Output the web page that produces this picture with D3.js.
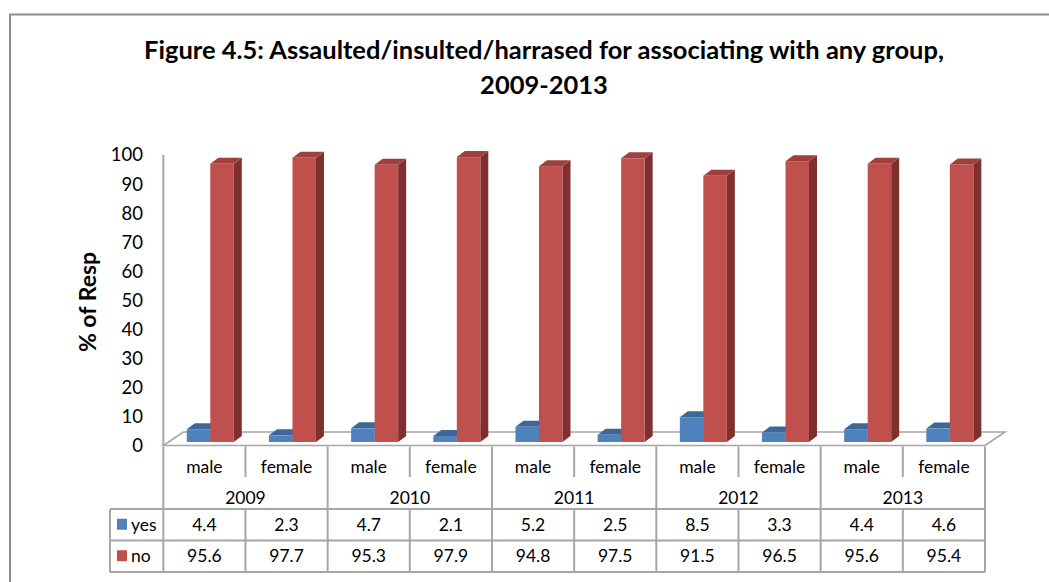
<!DOCTYPE html>
<html>
<head>
<meta charset="utf-8">
<script src="https://cdn.jsdelivr.net/npm/d3@7"></script>
<style>
  html, body { margin: 0; padding: 0; background: #fff; }
  svg { display: block; font-family: Lato, "Open Sans", sans-serif; }
</style>
</head>
<body>
<svg id="chart" width="1049" height="582"></svg>
<script>
// Survey data: share of respondents, by year and sex
const years = ["2009", "2010", "2011", "2012", "2013"];
const sexes = ["male", "female"];
const series = ["yes", "no"];
const yesValues = [4.4, 2.3, 4.7, 2.1, 5.2, 2.5, 8.5, 3.3, 4.4, 4.6];
const noValues = [95.6, 97.7, 95.3, 97.9, 94.8, 97.5, 91.5, 96.5, 95.6, 95.4];
const yTicks = [0, 10, 20, 30, 40, 50, 60, 70, 80, 90, 100];

const titleLines = ["Figure 4.5: Assaulted/insulted/harrased for associating with any group,", "2009-2013"];
const yAxisTitle = "% of Resp";

const categories = [];
years.forEach(y => sexes.forEach(s => categories.push({ key: y + "-" + s, year: y, sex: s })));
const valuesBySeries = { yes: yesValues, no: noValues };

const colors = {
  yes: { front: "#4F81BD", top: "#3D6797", side: "#385D8A" },
  no:  { front: "#C0504D", top: "#A0403E", side: "#7F302E" }
};

const svg = d3.select("#chart");
const gridColor = "#a6a6a6";

// Outer frame
svg.append("path")
  .attr("d", "M10,600 L10,14.5 L1060,14.5")
  .attr("fill", "none").attr("stroke", "#8c8c8c").attr("stroke-width", 2);

// Title, sized so the first line spans the plot width
const title = svg.append("g");
const titleFont = 21;
const tl = titleLines.map((t, i) => title.append("text")
  .attr("x", 544).attr("y", 59 + i * 35)
  .attr("text-anchor", "middle")
  .attr("font-weight", "bold")
  .attr("font-size", titleFont)
  .attr("fill", "#000")
  .text(t));
const w0 = tl[0].node().getComputedTextLength();
const fitSize = titleFont * 800 / w0;
tl.forEach(t => t.attr("font-size", fitSize));

// Scales
const x = d3.scaleBand().domain(categories.map(c => c.key)).range([163.3, 985]);
const inner = d3.scaleBand().domain(series).range([23.5, 70.5]);
const y = d3.scaleLinear().domain([0, 100]).range([442, 151]);
const depthX = 8, depthY = -6;

// Floor
const floorFront = 445.5, floorBack = 432;
svg.append("polygon")
  .attr("points", [[163.3, floorFront], [985, floorFront], [1005, floorBack], [183.3, floorBack]].map(p => p.join(",")).join(" "))
  .attr("fill", "#fff").attr("stroke", gridColor).attr("stroke-width", 1.6);

// Vertical axis line
svg.append("line")
  .attr("x1", 163.3).attr("x2", 163.3).attr("y1", 155).attr("y2", floorFront)
  .attr("stroke", gridColor).attr("stroke-width", 2);

// Tick labels (placed along the front axis)
const axis = d3.axisLeft(y).tickValues(yTicks).tickSize(0).tickPadding(0);
const axisG = svg.append("g").attr("transform", "translate(143,4)").call(axis);
axisG.select(".domain").remove();
axisG.selectAll("text")
  .attr("font-size", 18.5).attr("fill", "#000")
  .attr("font-family", "Lato, 'Open Sans', sans-serif");

// Axis title
svg.append("text")
  .attr("transform", "translate(96,302) rotate(-90)")
  .attr("text-anchor", "middle")
  .attr("font-weight", "bold").attr("font-size", 23).attr("fill", "#000")
  .text(yAxisTitle);

// 3D columns
const bars = svg.append("g");
categories.forEach((c, i) => {
  series.forEach(s => {
    const v = valuesBySeries[s][i];
    const x0 = x(c.key) + inner(s);
    const w = inner.bandwidth();
    const yTop = y(v), yBot = y(0);
    const col = colors[s];
    const g = bars.append("g");
    g.append("polygon")
      .attr("points", [[x0 + w, yTop], [x0 + w + depthX, yTop + depthY], [x0 + w + depthX, yBot + depthY], [x0 + w, yBot]].map(p => p.join(",")).join(" "))
      .attr("fill", col.side);
    g.append("polygon")
      .attr("points", [[x0, yTop], [x0 + depthX, yTop + depthY], [x0 + w + depthX, yTop + depthY], [x0 + w, yTop]].map(p => p.join(",")).join(" "))
      .attr("fill", col.top);
    g.append("rect")
      .attr("x", x0).attr("y", yTop).attr("width", w).attr("height", yBot - yTop)
      .attr("fill", col.front);
  });
});

// Data table
const table = svg.append("g");
const rowTop = 509, rowH = 31.5, tableLeft = 110, tableRight = 985, tableTop = 446.5;
const lineAttrs = sel => sel.attr("stroke", gridColor).attr("stroke-width", 2);
const textSize = 17.5;

// Category labels
categories.forEach(c => {
  table.append("text")
    .attr("x", x(c.key) + x.bandwidth() / 2).attr("y", 473)
    .attr("text-anchor", "middle").attr("font-size", textSize).attr("fill", "#000")
    .text(c.sex);
});
// Year labels
years.forEach((yr, i) => {
  const a = x(yr + "-" + sexes[0]);
  const b = x(yr + "-" + sexes[1]) + x.bandwidth();
  table.append("text")
    .attr("x", (a + b) / 2).attr("y", 504)
    .attr("text-anchor", "middle").attr("font-size", textSize).attr("fill", "#000")
    .text(yr);
});

// Short separators between the sexes in the category row
years.forEach(yr => {
  const xs = x(yr + "-" + sexes[1]);
  table.append("line").attr("x1", xs).attr("x2", xs).attr("y1", tableTop).attr("y2", 477).call(lineAttrs);
});
// Year separators through the whole table
const yearEdges = years.map(yr => x(yr + "-" + sexes[0])).concat([tableRight]);
yearEdges.forEach(xe => {
  table.append("line").attr("x1", xe).attr("x2", xe).attr("y1", tableTop).attr("y2", rowTop + 2 * rowH).call(lineAttrs);
});
// Row lines
[0, 1, 2].forEach(k => {
  table.append("line").attr("x1", tableLeft).attr("x2", tableRight)
    .attr("y1", rowTop + k * rowH).attr("y2", rowTop + k * rowH).call(lineAttrs);
});
table.append("line").attr("x1", tableLeft).attr("x2", tableLeft)
  .attr("y1", rowTop).attr("y2", rowTop + 2 * rowH).call(lineAttrs);
// Cell separators in the value rows
categories.forEach(c => {
  if (c.sex === sexes[1]) {
    const xs = x(c.key);
    table.append("line").attr("x1", xs).attr("x2", xs).attr("y1", rowTop).attr("y2", rowTop + 2 * rowH).call(lineAttrs);
  }
});

// Legend keys and values
series.forEach((s, r) => {
  const cy = rowTop + r * rowH + rowH / 2;
  table.append("rect").attr("x", 117).attr("y", cy - 6).attr("width", 10).attr("height", 11)
    .attr("fill", colors[s].front);
  table.append("text").attr("x", 131).attr("y", cy + 6)
    .attr("font-size", textSize).attr("fill", "#000").text(s);
  categories.forEach((c, i) => {
    table.append("text")
      .attr("x", x(c.key) + x.bandwidth() / 2).attr("y", cy + 6)
      .attr("text-anchor", "middle").attr("font-size", textSize).attr("fill", "#000")
      .text(valuesBySeries[s][i].toFixed(1));
  });
});
</script>
</body>
</html>
